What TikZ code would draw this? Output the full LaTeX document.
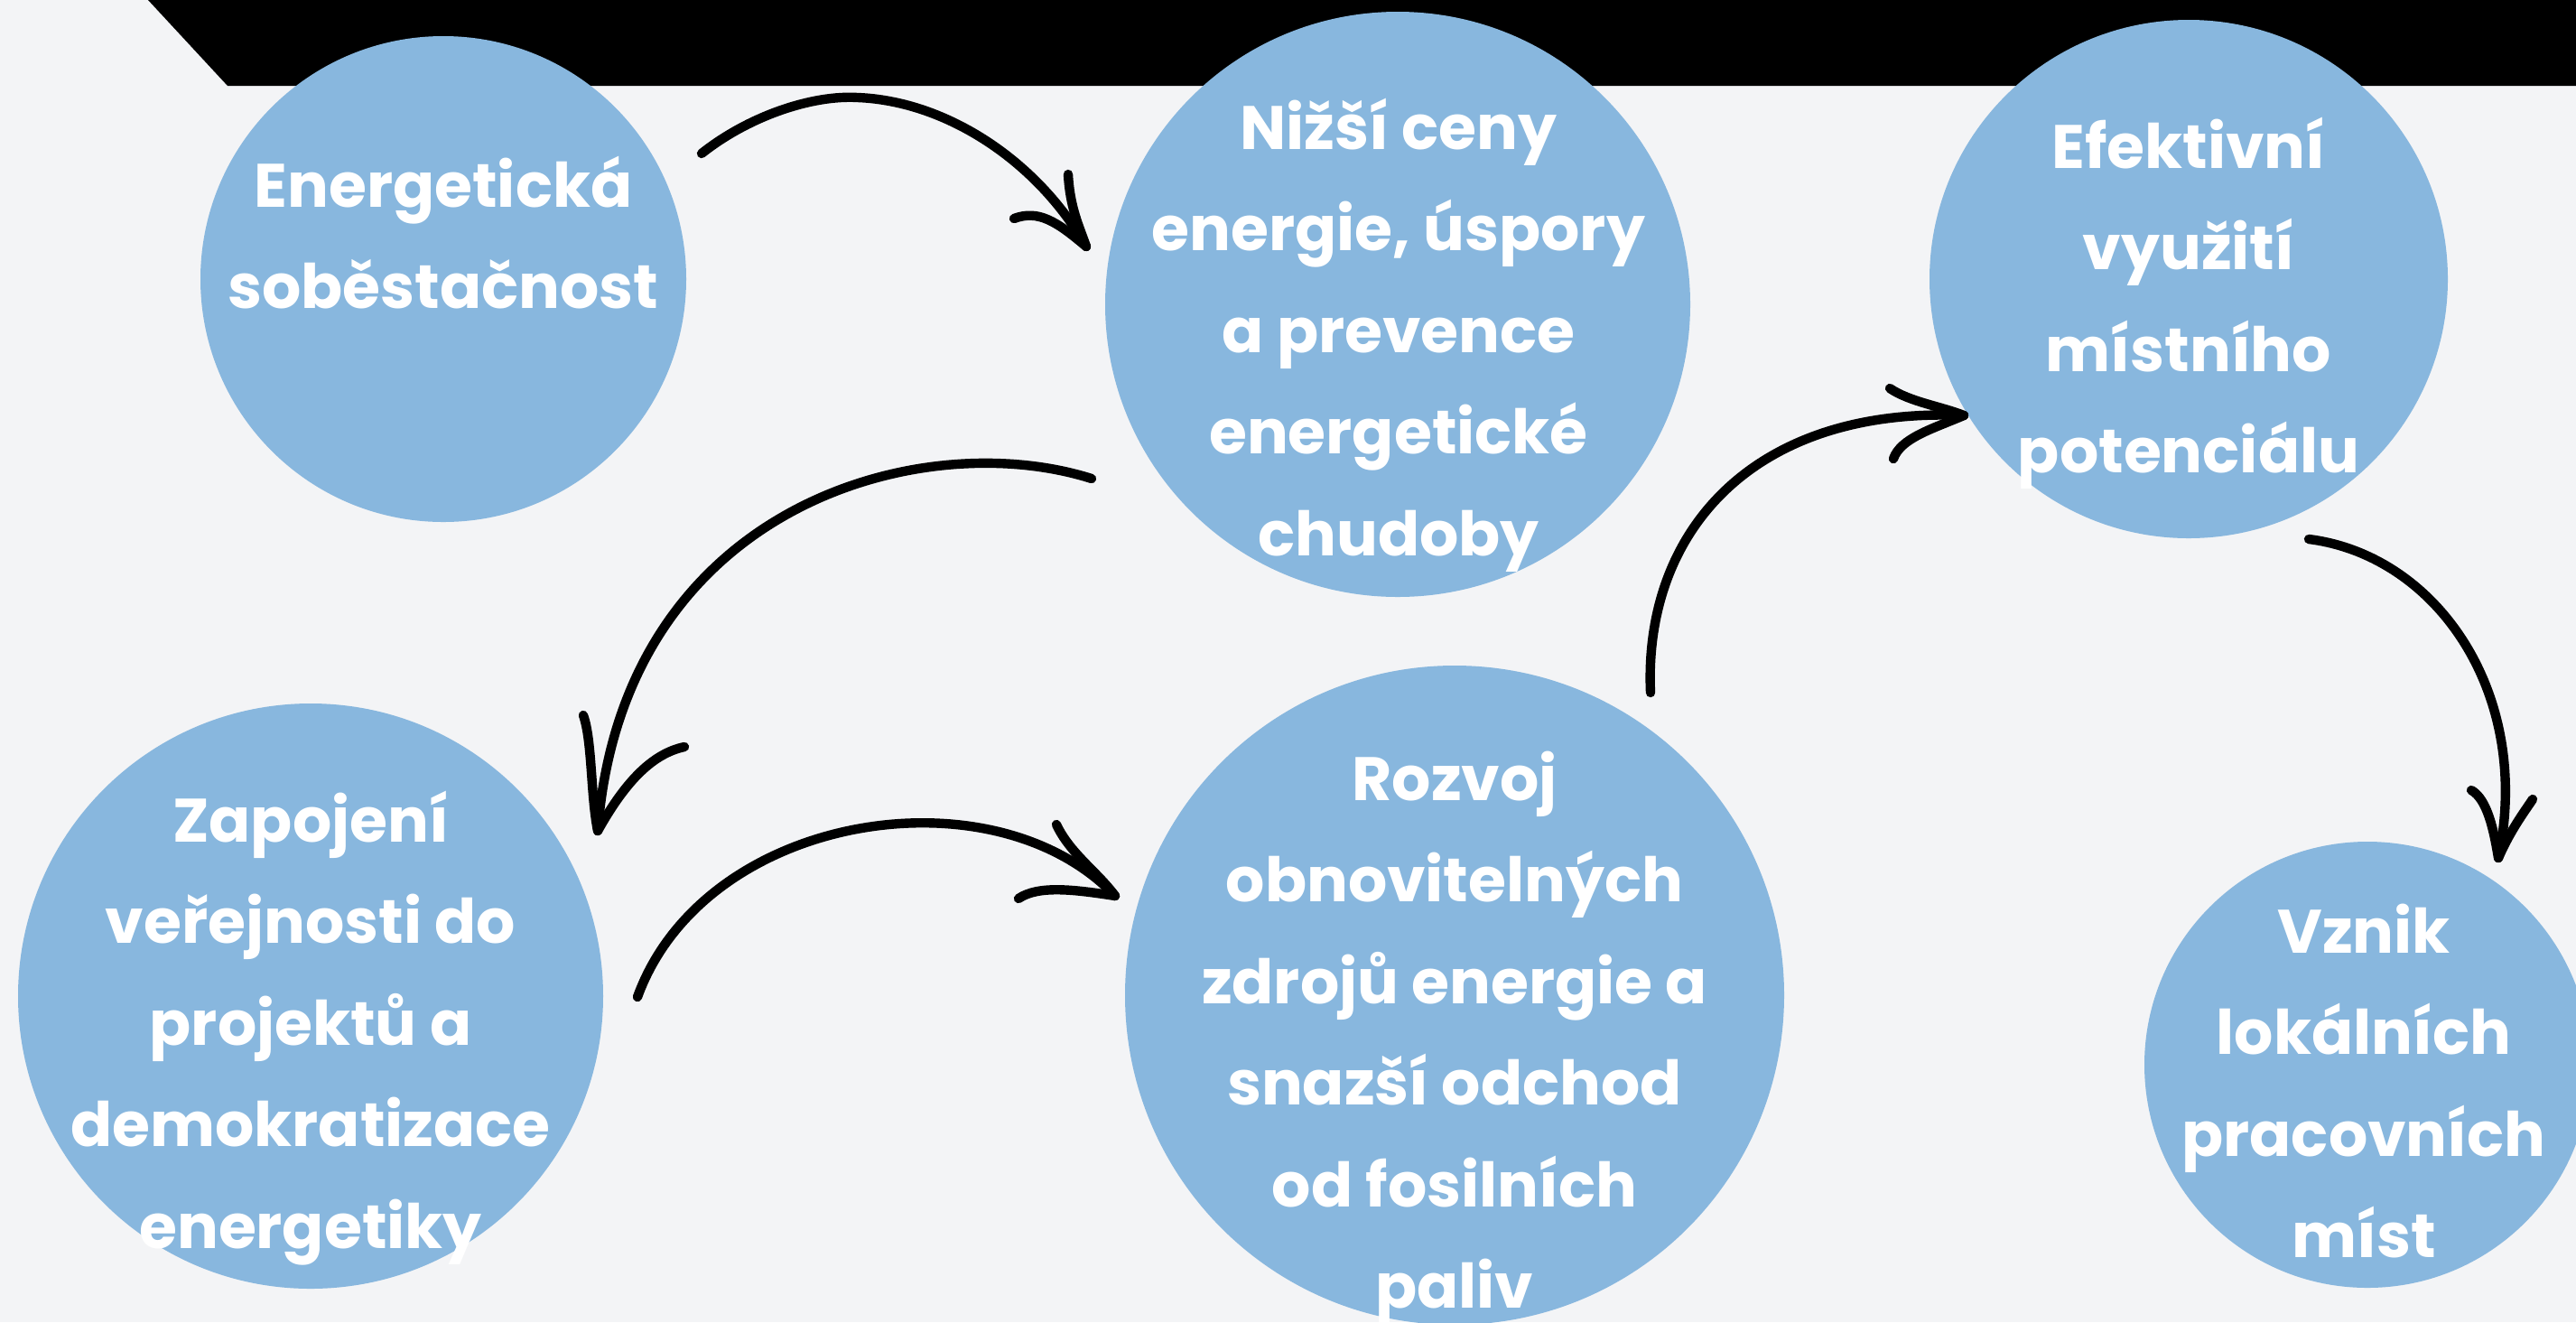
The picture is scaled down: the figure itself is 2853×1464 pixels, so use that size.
\documentclass[tikz,border=0pt]{standalone}
\usepackage{fontspec}
\setmainfont{Poppins}
\definecolor{bgc}{RGB}{243,244,246}
\definecolor{bubc}{RGB}{136,183,222}
\begin{document}
\begin{tikzpicture}[x=0.5pt,y=-0.5pt,
  bubble/.style={circle,fill=bubc,draw=none,inner sep=0pt},
  lbl/.style={text=white,font=\fontsize{34}{56.25}\selectfont\bfseries,align=center,inner sep=0pt,anchor=base},
  brush/.style={draw=black,line width=5.2pt,line cap=round,line join=round}]
\fill[bgc] (0,0) rectangle (2853,1464);
\useasboundingbox (0,0) rectangle (2853,1464);
\fill[black] (164,0) -- (252,95) -- (2853,95) -- (2853,0) -- cycle;
% circles
\node[bubble,minimum size=269pt] (c1) at (491,309) {};
\node[bubble,minimum size=324pt] (c2) at (1548,337) {};
\node[bubble,minimum size=287pt] (c3) at (2424,309) {};
\node[bubble,minimum size=324pt] (c4) at (344,1103) {};
\node[bubble,minimum size=365pt] (c5) at (1611,1102) {};
\node[bubble,minimum size=247pt] (c6) at (2622,1179) {};
% labels (anchor = baseline of the last line)
\node[lbl] (t1) at (491,341.5) {Energetická\\soběstačnost};
\node[lbl] (t2) at (1549,615) {Nižší ceny\\energie, úspory\\a prevence\\energetické\\chudoby};
\node[lbl] (t3) at (2424,523.5) {Efektivní\\využití\\místního\\potenciálu};
\node[lbl] (t4) at (344,1382) {Zapojení\\veřejnosti do\\projektů a\\demokratizace\\energetiky};
\node[lbl] (t5) at (1611,1448.5) {Rozvoj\\obnovitelných\\zdrojů energie a\\snazší odchod\\od fosilních\\paliv};
\node[lbl] (t6) at (2618,1392.5) {Vznik\\lokálních\\pracovních\\míst};
% arrow end points
\coordinate (aS) at (777,170);  \coordinate (aT) at (1203,273);
\coordinate (bS) at (1209,530); \coordinate (bT) at (662,920);
\coordinate (cS) at (706,1104); \coordinate (cT) at (1235,992);
\coordinate (dS) at (1828,767); \coordinate (dT) at (2175,460);
\coordinate (eS) at (2557,597); \coordinate (eT) at (2767,950);
% arrow A: c1 -> c2
\draw[brush] (aS) .. controls (830,128) and (900,105) .. (950,108) .. controls (1050,112) and (1150,180) .. (aT);
\draw[brush] (1183,193) .. controls (1185,230) and (1195,250) .. (aT);
\draw[brush] (1123,242) .. controls (1150,232) and (1170,245) .. (aT);
% arrow B: c2 -> c4
\draw[brush] (bS) .. controls (1020,470) and (690,560) .. (bT);
\draw[brush] (646,792) .. controls (656,820) and (654,880) .. (bT);
\draw[brush] (758,827) .. controls (720,835) and (690,870) .. (bT);
% arrow C: c4 -> c5
\draw[brush] (cS) .. controls (780,900) and (1100,850) .. (cT);
\draw[brush] (1170,913) .. controls (1185,945) and (1215,965) .. (cT);
\draw[brush] (1128,995) .. controls (1150,980) and (1190,985) .. (cT);
% arrow D: c5 -> c3
\draw[brush] (dS) .. controls (1820,590) and (1940,450) .. (dT);
\draw[brush] (2093,430) .. controls (2115,445) and (2150,450) .. (dT);
\draw[brush] (2097,508) .. controls (2105,485) and (2140,475) .. (dT);
% arrow E: c3 -> c6
\draw[brush] (eS) .. controls (2700,615) and (2805,770) .. (eT);
\draw[brush] (2737,875) .. controls (2755,885) and (2762,920) .. (eT);
\draw[brush] (2805,885) .. controls (2795,900) and (2780,920) .. (eT);
\end{tikzpicture}
\end{document}
